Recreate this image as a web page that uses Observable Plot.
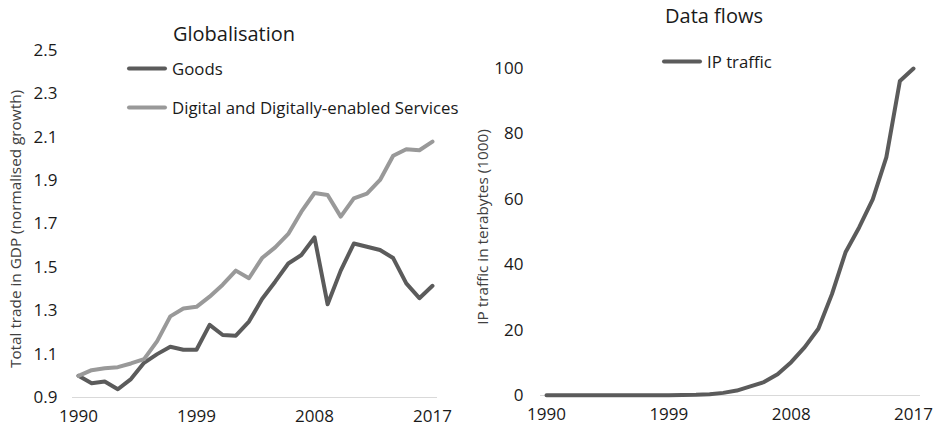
<!DOCTYPE html>
<html>
<head>
<meta charset="utf-8">
<script src="https://cdn.jsdelivr.net/npm/d3@7"></script>
<script src="https://cdn.jsdelivr.net/npm/@observablehq/plot@0.6"></script>
<style>
  body { margin: 0; background: #fff; font-family: "Open Sans", sans-serif; }
  #wrap { position: relative; width: 939px; height: 434px; overflow: hidden; }
  .panel { position: absolute; top: 0; }
  .lbl { position: absolute; white-space: nowrap; color: #1a1a1a; }
  .title { font-size: 20px; transform: translate(-50%, -50%); }
  .ylab { font-size: 15.3px; color: #404040; transform: translate(-50%, -50%) rotate(-90deg); }
  .leg { position: absolute; display: flex; align-items: center; font-size: 16.8px; color: #1a1a1a; white-space: nowrap; transform: translateY(-50%); }
  .sw { width: 40px; height: 4px; border-radius: 2px; margin-right: 5px; }
</style>
</head>
<body>
<div id="wrap"></div>
<script>
const years = d3.range(1990, 2018);
const goods = [1.00, 0.966, 0.974, 0.938, 0.985, 1.06, 1.10, 1.134, 1.12, 1.12, 1.235, 1.188, 1.185, 1.25, 1.354, 1.434, 1.518, 1.557, 1.638, 1.33, 1.485, 1.61, 1.595, 1.58, 1.543, 1.426, 1.358, 1.415];
const services = [1.00, 1.026, 1.035, 1.04, 1.057, 1.077, 1.16, 1.274, 1.31, 1.318, 1.365, 1.42, 1.485, 1.45, 1.543, 1.592, 1.654, 1.757, 1.843, 1.834, 1.734, 1.818, 1.84, 1.903, 2.015, 2.045, 2.04, 2.08];
const ipTraffic = [0.1, 0.1, 0.1, 0.1, 0.1, 0.1, 0.1, 0.1, 0.1, 0.1, 0.15, 0.2, 0.4, 0.8, 1.5, 2.8, 4.1, 6.5, 10.2, 14.8, 20.4, 31, 43.8, 51.4, 60, 72.8, 96.2, 100];
const xTicks = [1990, 1999, 2008, 2017];
const yTicksLeft = [0.9, 1.1, 1.3, 1.5, 1.7, 1.9, 2.1, 2.3, 2.5];
const yTicksRight = [0, 20, 40, 60, 80, 100];
const colGoods = "#5b5b5b";
const colServices = "#999999";
const colIP = "#5b5b5b";

const glob = years.flatMap((y, i) => [
  {year: y, value: goods[i], series: "Goods"},
  {year: y, value: services[i], series: "Digital and Digitally-enabled Services"}
]);
const ip = years.map((y, i) => ({year: y, value: ipTraffic[i]}));

const wrap = document.getElementById("wrap");

const common = {
  height: 434,
  style: {fontFamily: "Open Sans, sans-serif", fontSize: "17px", color: "#1a1a1a", background: "transparent"}
};

const left = Plot.plot({
  ...common,
  width: 470,
  marginLeft: 72, marginRight: 33, marginTop: 50, marginBottom: 37,
  x: {domain: [1990, 2017], insetLeft: 6, insetRight: 5},
  y: {domain: [0.9, 2.5]},
  marks: [
    Plot.ruleY([0.9], {stroke: "#d9d9d9", strokeWidth: 1.2}),
    Plot.axisX({ticks: xTicks, tickFormat: d => String(d), tickSize: 0, tickPadding: 12, label: null, fontSize: 17}),
    Plot.axisY({ticks: yTicksLeft, tickFormat: d3.format(".1f"), tickSize: 0, tickPadding: 15, label: null, fontSize: 17}),
    Plot.line(glob, {x: "year", y: "value", z: "series",
      stroke: d => d.series === "Goods" ? colGoods : colServices,
      strokeWidth: 4, strokeLinejoin: "round", strokeLinecap: "round"})
  ]
});

const right = Plot.plot({
  ...common,
  width: 469,
  marginLeft: 70, marginRight: 19, marginTop: 68, marginBottom: 39,
  x: {domain: [1990, 2017], insetLeft: 6, insetRight: 7},
  y: {domain: [0, 100]},
  marks: [
    Plot.ruleY([0], {stroke: "#d9d9d9", strokeWidth: 1.2}),
    Plot.axisX({ticks: xTicks, tickFormat: d => String(d), tickSize: 0, tickPadding: 12, label: null, fontSize: 17}),
    Plot.axisY({ticks: yTicksRight, tickSize: 0, tickPadding: 17, label: null, fontSize: 17}),
    Plot.line(ip, {x: "year", y: "value", stroke: colIP, strokeWidth: 4,
      strokeLinejoin: "round", strokeLinecap: "round"})
  ]
});

left.classList.add("panel"); left.style.left = "0px";
right.classList.add("panel"); right.style.left = "470px";
wrap.appendChild(left);
wrap.appendChild(right);

function addText(cls, text, x, y) {
  const d = document.createElement("div");
  d.className = "lbl " + cls;
  d.textContent = text;
  d.style.left = x + "px";
  d.style.top = y + "px";
  wrap.appendChild(d);
}
function addLegend(text, color, x, y) {
  const d = document.createElement("div");
  d.className = "leg";
  d.style.left = x + "px";
  d.style.top = y + "px";
  const s = document.createElement("div");
  s.className = "sw";
  s.style.background = color;
  const t = document.createElement("span");
  t.textContent = text;
  d.appendChild(s); d.appendChild(t);
  wrap.appendChild(d);
}

addText("title", "Globalisation", 234, 33);
addText("title", "Data flows", 714, 15);
addText("ylab", "Total trade in GDP (normalised growth)", 15, 229);
addText("ylab", "IP traffic in terabytes (1000)", 482, 227);
addLegend("Goods", colGoods, 127, 68);
addLegend("Digital and Digitally-enabled Services", colServices, 127, 107);
addLegend("IP traffic", colIP, 662, 61);
</script>
</body>
</html>
